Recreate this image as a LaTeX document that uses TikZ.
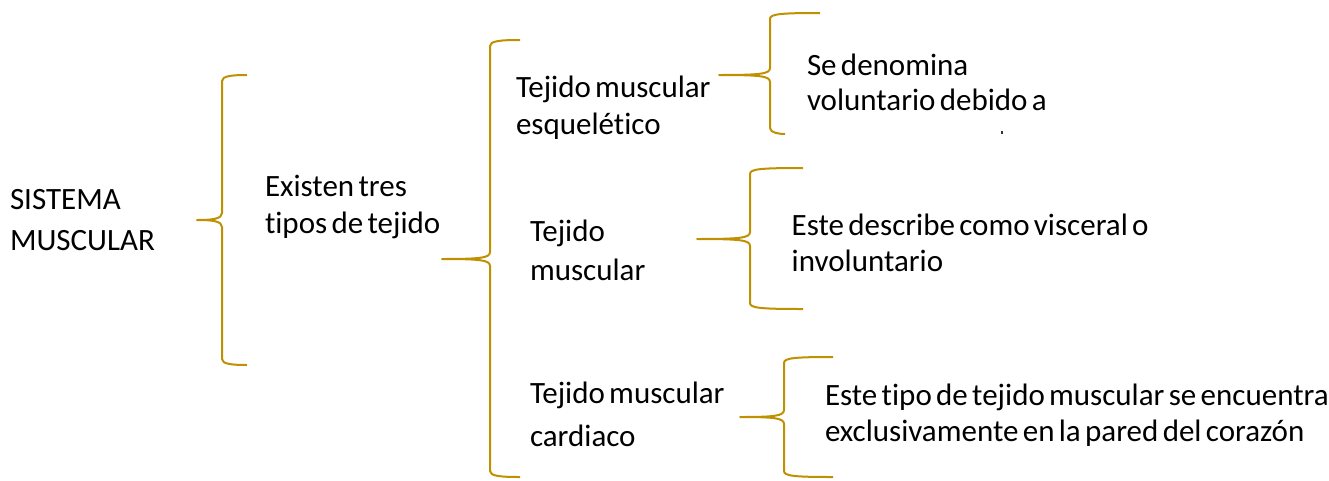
\documentclass[tikz,border=0pt]{standalone}
\usepackage{fontspec}
\setmainfont[Ligatures=NoCommon]{Carlito}
\definecolor{gold}{RGB}{191,144,0}
\newcommand{\tightspaces}{\spaceskip=0.14em plus 0.02em\relax}
\tikzset{
  br/.style={draw=gold, line width=2pt, line join=round},
  txt/.style={anchor=base west, inner sep=0pt, outer sep=0pt, font=\fontsize{31}{37}\selectfont, execute at begin node=\tightspaces, text=black}
}
% #1 tip x, #2 mid y, #3 vertical x, #4 top y, #5 top end x, #6 bottom y, #7 bottom end x
\newcommand{\curlybr}[7]{%
  \draw[br] (#5,#4) .. controls ({#3+10},#4) and (#3,{#4+1}) .. (#3,{#4+6})
    -- (#3,{#2-7}) .. controls (#3,{#2-1}) and ({#3-10},#2) .. (#1,#2)
    .. controls ({#3-10},#2) and (#3,{#2+1}) .. (#3,{#2+7})
    -- (#3,{#6-6}) .. controls (#3,{#6-1}) and ({#3+10},#6) .. (#7,#6);}
\begin{document}
\begin{tikzpicture}[x=1pt,y=-1pt]
\useasboundingbox (0,0) rectangle (1329,480);
% texts
\node[txt] (s1) at (10,209.5) {SISTEMA};
\node[txt] (s2) at (10,250) {MUSCULAR};
\node[txt] (e1) at (265,196.7) {Existen tres};
\node[txt] (e2) at (265,233.3) {tipos de tejido};
\node[txt] (a1) at (516,97.3) {Tejido muscular};
\node[txt] (a2) at (516,134) {esquelético};
\node[txt] (b1) at (530,241.7) {Tejido};
\node[txt] (b2) at (530,280) {muscular};
\node[txt] (c1) at (530,403.3) {Tejido muscular};
\node[txt] (c2) at (530,446.7) {cardiaco};
\node[txt] (d1) at (807,75) {Se denomina};
\node[txt] (d2) at (807,110.7) {voluntario debido a};
\node[txt] (f1) at (791.7,235) {Este describe como visceral o};
\node[txt] (f2) at (791.7,271.7) {involuntario};
\node[txt] (g1) at (825,405) {Este tipo de tejido muscular se encuentra};
\node[txt] (g2) at (825,441.7) {exclusivamente en la pared del corazón};
\fill[black!80] (1001,131) rectangle (1003,134);
% braces
\curlybr{197}{220}{222}{75}{247}{365}{247}
\curlybr{442}{259}{490}{40}{520}{477}{520}
\curlybr{719}{75}{770}{13}{820}{134}{785}
\curlybr{697}{239}{750}{168}{803}{309}{803}
\curlybr{740}{417}{784}{357}{833}{477}{833}
\end{tikzpicture}
\end{document}
